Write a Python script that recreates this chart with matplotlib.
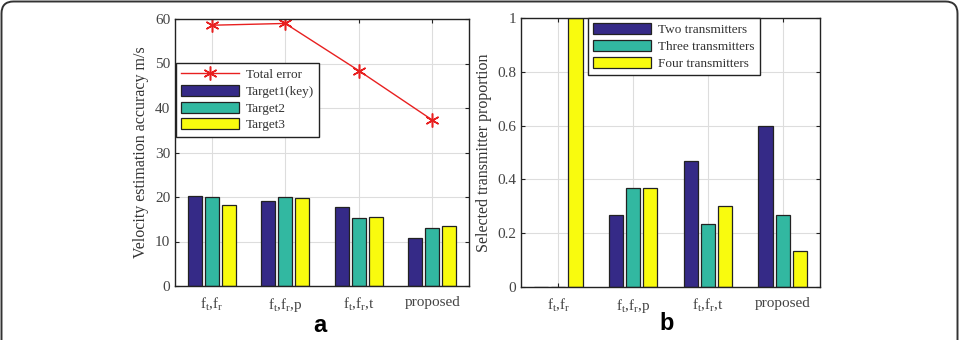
import matplotlib

matplotlib.use('Agg')
import matplotlib.pyplot as plt
from matplotlib.patches import PathPatch, Patch
from matplotlib.path import Path
from matplotlib.lines import Line2D
from matplotlib.ticker import FuncFormatter
import numpy as np

plt.rcParams['font.family'] = 'Liberation Serif'
plt.rcParams['mathtext.fontset'] = 'custom'
plt.rcParams['mathtext.rm'] = 'Liberation Serif'
plt.rcParams['mathtext.it'] = 'Liberation Serif'

groups = ['f$_t$,f$_r$', 'f$_t$,f$_r$,p', 'f$_t$,f$_r$,t', 'proposed']

# panel a: velocity estimation accuracy (m/s)
target1 = [20.3, 19.0, 17.8, 10.7]
target2 = [20.0, 20.1, 15.2, 13.0]
target3 = [18.3, 19.7, 15.4, 13.5]
total_error = [58.6, 59.0, 48.4, 37.3]
labels_a = ['Target1(key)', 'Target2', 'Target3']

# panel b: selected transmitter proportion
two_tx = [0.0, 0.267, 0.467, 0.6]
three_tx = [0.0, 0.367, 0.233, 0.267]
four_tx = [1.0, 0.367, 0.3, 0.133]
labels_b = ['Two transmitters', 'Three transmitters', 'Four transmitters']

colors = ['#352a87', '#32b8a1', '#f9fb0e']
W, H = 963, 340
ASTERISK = (6, 2, 0)

fig = plt.figure(figsize=(W / 100, H / 100), dpi=100)

# outer frame: left, top and right sides with rounded top corners
x0, x1, yt, r = 1.5 / W, 957.5 / W, 1 - 1.5 / H, 12.0
rx, ry = r / W, r / H
verts = [(x0, -0.05), (x0, yt - ry), (x0, yt), (x0 + rx, yt),
         (x1 - rx, yt), (x1, yt), (x1, yt - ry), (x1, -0.05)]
codes = [Path.MOVETO, Path.LINETO, Path.CURVE3, Path.CURVE3,
         Path.LINETO, Path.CURVE3, Path.CURVE3, Path.LINETO]
fig.patches.append(PathPatch(Path(verts, codes), transform=fig.transFigure,
                             fill=False, edgecolor='#333333', linewidth=1.4))

ax_a = fig.add_axes([175 / W, 1 - 286 / H, 294 / W, 267 / H])
ax_b = fig.add_axes([521 / W, 1 - 287 / H, 299 / W, 269 / H])

x = np.arange(1, 5)
offsets = [-0.23, 0.0, 0.23]
bw = 0.19


def style_axes(ax):
    ax.set_xlim(0.5, 4.5)
    ax.set_xticks(x)
    ax.set_xticklabels(groups)
    ax.grid(True, color='#dddddd', linewidth=0.8)
    ax.set_axisbelow(True)
    ax.tick_params(direction='in', labelsize=11, colors='#222222',
                   labelcolor='#444444', length=3, top=True, right=True)
    ax.tick_params(axis='x', pad=7)
    for sp in ax.spines.values():
        sp.set_linewidth(1.0)
        sp.set_color('#222222')


def add_legend(ax, handles, labels, lx, ly):
    leg = ax.legend(handles, labels, loc='upper left',
                    bbox_to_anchor=(lx / W, 1 - ly / H), bbox_transform=fig.transFigure,
                    borderaxespad=0, fancybox=False, framealpha=1, edgecolor='#222222',
                    fontsize=9.5, handlelength=4.4, handleheight=0.9, labelspacing=0.28,
                    handletextpad=0.5, borderpad=0.4, labelcolor='#333333')
    leg.get_frame().set_linewidth(1.0)


# ---- panel a
for series, off, col in zip([target1, target2, target3], offsets, colors):
    ax_a.bar(x + off, series, width=bw, color=col, edgecolor='#222222', linewidth=0.9)
ax_a.plot(x, total_error, '-', marker=ASTERISK, color='#e82020', linewidth=1.0,
          markersize=10, markeredgewidth=1.1)
ax_a.set_ylim(0, 60)
ax_a.set_yticks(range(0, 61, 10))
style_axes(ax_a)
ax_a.set_ylabel('Velocity estimation accuracy m/s', fontsize=11.5, color='#333333')

handles_a = [Line2D([], [], color='#e82020', marker=ASTERISK, markersize=10,
                    markeredgewidth=1.1, linewidth=1.0)]
handles_a += [Patch(facecolor=c, edgecolor='#222222', linewidth=0.9) for c in colors]
add_legend(ax_a, handles_a, ['Total error'] + labels_a, 176, 63)

# ---- panel b
for series, off, col in zip([two_tx, three_tx, four_tx], offsets, colors):
    ax_b.bar(x + off, series, width=bw, color=col, edgecolor='#222222', linewidth=0.9)
ax_b.set_ylim(0, 1)
ax_b.set_yticks(np.arange(0, 1.01, 0.2))
ax_b.yaxis.set_major_formatter(FuncFormatter(lambda v, p: '%g' % round(v, 1)))
style_axes(ax_b)
ax_b.set_ylabel('Selected transmitter proportion', fontsize=11.5, color='#333333')

handles_b = [Patch(facecolor=c, edgecolor='#222222', linewidth=0.9) for c in colors]
add_legend(ax_b, handles_b, labels_b, 588, 18)

fig.text(320 / W, 1 - 326 / H, 'a', family='Liberation Sans', fontweight='bold',
         fontsize=17, ha='center', va='center')
fig.text(667 / W, 1 - 324 / H, 'b', family='Liberation Sans', fontweight='bold',
         fontsize=17, ha='center', va='center')

fig.savefig('out.png', dpi=100)
plt.close(fig)
